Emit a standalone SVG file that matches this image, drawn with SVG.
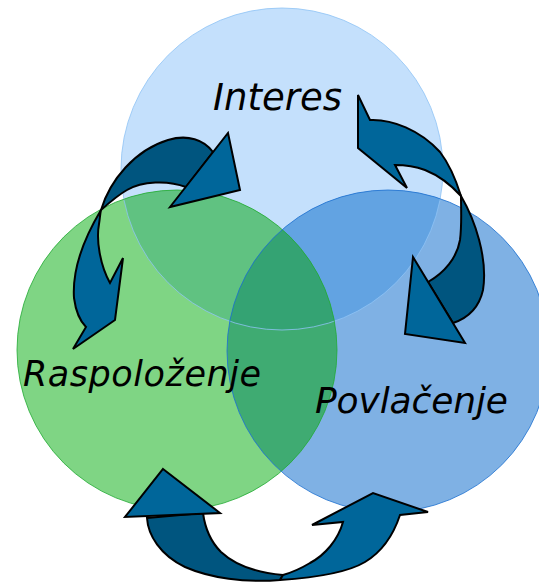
<svg xmlns="http://www.w3.org/2000/svg" width="539" height="582" viewBox="0 0 539 582">
<style>
.lbl{font-family:"DejaVu Sans","Verdana",sans-serif;font-style:italic;fill:#000}
.arr{stroke:#000;stroke-width:2;stroke-linejoin:miter}
.a1{fill:#00669a}
.a2{fill:#00557f}
</style>
<defs>
<clipPath id="cT"><circle cx="282" cy="169" r="161"/></clipPath>
<clipPath id="cG"><circle cx="177" cy="350" r="160"/></clipPath>
<clipPath id="cB"><circle cx="388" cy="351" r="161"/></clipPath>
</defs>
<rect width="539" height="582" fill="#fff"/>
<g id="circles">
<circle cx="282" cy="169" r="161" fill="#c4e0fc"/>
<circle cx="177" cy="350" r="160" fill="#7fd584"/>
<circle cx="388" cy="351" r="161" fill="#7fb1e4"/>
<g clip-path="url(#cG)"><circle cx="282" cy="169" r="161" fill="#60c281"/></g>
<g clip-path="url(#cB)"><circle cx="282" cy="169" r="161" fill="#62a3e2"/></g>
<g clip-path="url(#cG)"><circle cx="388" cy="351" r="161" fill="#3fab72"/></g>
<g clip-path="url(#cG)"><g clip-path="url(#cB)"><circle cx="282" cy="169" r="161" fill="#34a373"/></g></g>
<circle cx="282" cy="169" r="161" fill="none" stroke="#8ec3f5" stroke-width="1" opacity="0.8"/>
<circle cx="177" cy="350" r="160" fill="none" stroke="#22aa33" stroke-width="1" opacity="0.8"/>
<circle cx="388" cy="351" r="161" fill="none" stroke="#1c6fd0" stroke-width="1" opacity="0.8"/>
</g>
<g id="node-interes"><text class="lbl" x="213" y="110" font-size="37" textLength="129" lengthAdjust="spacing">Interes</text></g>
<g id="node-raspolozenje"><text class="lbl" x="23" y="386" font-size="35" textLength="238" lengthAdjust="spacing">Raspoloženje</text></g>
<g id="node-povlacenje"><text class="lbl" x="315" y="413" font-size="36" textLength="193" lengthAdjust="spacing">Povlačenje</text></g>
<g id="connectors">
<g id="arrow-left">
<path class="arr a2" d="M101,210 C110,180 135,150 168,140 C188,134 204,140 213,152 L186,187 C168,180 142,181 127,190 C118,195 110,202 101,210 Z"/>
<path class="arr a1" d="M170,207 L228,133 L240,190 Z"/>
<path class="arr a1" d="M101,210 C86,235 72,268 74,298 C76,313 80,321 86,327 L73,349 L115,320 L123,258 L110,283 C100,265 96,240 99,224 C100,218 100,214 101,210 Z"/>
</g>
<g id="arrow-right">
<path class="arr a2" d="M461,196 C475,220 488,258 483,290 C479,308 468,318 453,323 L428,282 C444,273 457,258 460,240 C462,225 461,210 461,196 Z"/>
<path class="arr a1" d="M413,257 L465,343 L405,334 Z"/>
<path class="arr a1" d="M358,95 L370,120 C392,119 420,130 440,152 C450,165 456,180 461,196 C452,186 440,176 425,170 C414,166 404,165 395,165 L407,188 L358,148 Z"/>
</g>
<g id="arrow-bottom">
<path class="arr a2" d="M147,518 C148,535 160,555 185,567 C210,578 245,583 280,580 L283,575 C260,573 236,566 221,552 C211,542 205,528 203,513 Z"/>
<path class="arr a1" d="M163,469 L220,513 L125,517 Z"/>
<path class="arr a1" d="M280,580 C310,578 345,574 365,562 C385,550 395,530 400,515 L428,512 L373,493 L312,525 L343,522 C338,540 325,555 310,563 C300,569 290,573 283,575 Z"/>
</g>
</g>
</svg>
